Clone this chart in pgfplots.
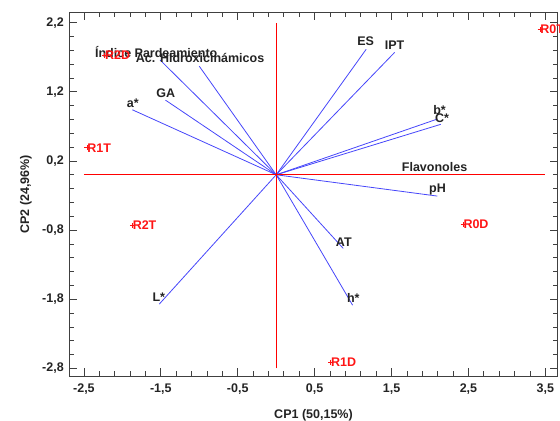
\documentclass[border=0pt]{standalone}
\usepackage{fontspec}
\setmainfont{Liberation Sans}
\usepackage{pgfplots}
\pgfplotsset{compat=1.18}
\usetikzlibrary{calc}
\definecolor{vec}{RGB}{70,70,250}
\definecolor{obs}{RGB}{255,20,20}
\definecolor{txt}{RGB}{35,35,35}
\pgfplotstableread{
x y lab
-2.23 1.73 R2D
3.43 2.10 R0T
-2.46 0.39 R1T
-1.87 -0.73 R2T
2.43 -0.72 R0D
0.71 -2.71 R1D
}\obsdata
\begin{document}
\begin{tikzpicture}[font=\fontsize{12.5bp}{14bp}\selectfont\bfseries]
\begin{axis}[
 scale only axis, width=488.4bp, height=363.7bp,
 xmin=-2.69, xmax=3.66, ymin=-2.91, ymax=2.35,
 xtick={-2.5,-1.5,-0.5,0.5,1.5,2.5,3.5},
 xticklabels={{-2,5},{-1,5},{-0,5},{0,5},{1,5},{2,5},{3,5}},
 ytick={-2.8,-1.8,-0.8,0.2,1.2,2.2},
 yticklabels={{-2,8},{-1,8},{-0,8},{0,2},{1,2},{2,2}},
 minor x tick num=4, minor y tick num=4,
 tick align=inside,
 major tick length=8bp, minor tick length=5bp,
 tick style={black!75, line width=0.8bp},
 axis line style={black!75, line width=0.9bp},
 xticklabel style={yshift=-4.5bp, text=txt},
 yticklabel style={xshift=-2bp, text=txt},
 xlabel={CP1 (50,15\%)}, ylabel={CP2 (24,96\%)},
 xlabel style={at={(axis description cs:0.5,-0.1155)}, anchor=base, text=txt},
 ylabel style={at={(axis description cs:-0.0887,0.5)}, anchor=center, text=txt},
 clip=true,
]
\coordinate (SW) at (rel axis cs:0,0);
\coordinate (NE) at (rel axis cs:1,1);
% loading vectors
\addplot[vec, line width=0.8bp] coordinates {(0,0) (-1.51,1.66)};
\addplot[vec, line width=0.8bp] coordinates {(0,0) (-1.00,1.57)};
\addplot[vec, line width=0.8bp] coordinates {(0,0) (-1.44,1.08)};
\addplot[vec, line width=0.8bp] coordinates {(0,0) (-1.87,0.94)};
\addplot[vec, line width=0.8bp] coordinates {(0,0) (1.17,1.815)};
\addplot[vec, line width=0.8bp] coordinates {(0,0) (1.54,1.77)};
\addplot[vec, line width=0.8bp] coordinates {(0,0) (2.095,0.806)};
\addplot[vec, line width=0.8bp] coordinates {(0,0) (2.14,0.73)};
\addplot[vec, line width=0.8bp] coordinates {(0,0) (2.50,0.0)};
\addplot[vec, line width=0.8bp] coordinates {(0,0) (2.095,-0.308)};
\addplot[vec, line width=0.8bp] coordinates {(0,0) (0.872,-1.065)};
\addplot[vec, line width=0.8bp] coordinates {(0,0) (0.993,-1.885)};
\addplot[vec, line width=0.8bp] coordinates {(0,0) (-1.52,-1.87)};
% reference lines
\addplot[red, line width=1bp] coordinates {(-2.5,0) (3.5,0)};
\addplot[red, line width=1bp] coordinates {(0,-2.8) (0,2.2)};
% vector labels
\begin{scope}[every node/.style={inner sep=0pt, text=txt}]
\node[anchor=west] at (axis cs:-2.357,1.776) {Índice Pardeamiento};
\node[anchor=west] at (axis cs:-1.826,1.685) {Ac. Hidroxicinámicos};
\node at (axis cs:-1.436,1.187) {GA};
\node at (axis cs:-1.864,1.038) {a*};
\node at (axis cs:1.164,1.925) {ES};
\node at (axis cs:1.540,1.877) {IPT};
\node at (axis cs:2.124,0.937) {b*};
\node at (axis cs:2.156,0.821) {C*};
\node at (axis cs:2.059,0.116) {Flavonoles};
\node at (axis cs:2.098,-0.207) {pH};
\node at (axis cs:0.879,-0.969) {AT};
\node at (axis cs:1.002,-1.784) {h*};
\node at (axis cs:-1.527,-1.770) {L*};
\end{scope}
% observations
\addplot[only marks, mark=+, mark size=2.5bp, obs, line width=0.8bp,
 nodes near coords, point meta=explicit symbolic,
 nodes near coords style={anchor=west, inner sep=0pt, text=obs, font=\fontsize{12.5bp}{14bp}\selectfont\bfseries}]
 table[x=x, y=y, meta=lab] {\obsdata};
\end{axis}
\pgfresetboundingbox
\path ($(SW)+(-69.3bp,-45bp)$) rectangle ($(NE)+(2.3bp,12.3bp)$);
\end{tikzpicture}
\end{document}
